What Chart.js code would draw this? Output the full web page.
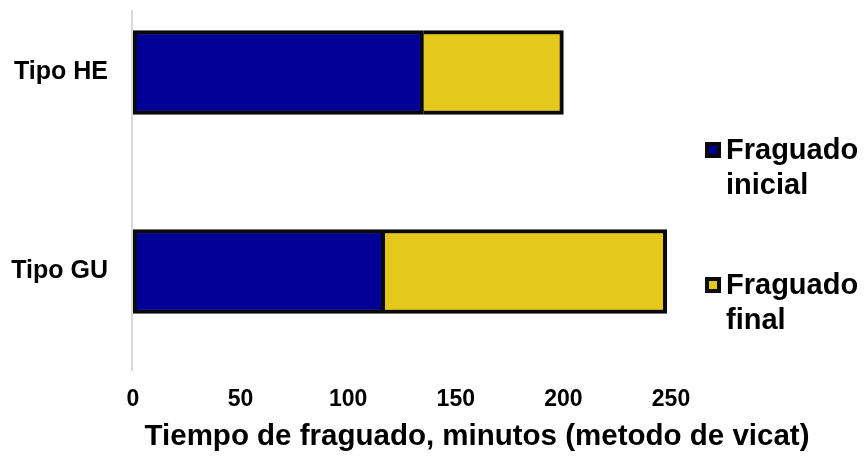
<!DOCTYPE html>
<html lang="es">
<head>
<meta charset="utf-8">
<title>Tiempo de fraguado</title>
<script src="https://cdn.jsdelivr.net/npm/chart.js@4.4.1/dist/chart.umd.min.js"></script>
<style>
  html, body { margin: 0; padding: 0; background: #ffffff; overflow: hidden; }
  body { width: 866px; height: 456px; position: relative; }
  #wrap { position: absolute; left: 0; top: -67px; width: 866px; height: 523px; }
</style>
</head>
<body>
<div id="wrap"><canvas id="grafico" width="866" height="523"></canvas></div>
<script>
// Tipos de cemento
const categorias = ['Tipo HE', 'Tipo GU'];
// Minutos hasta el fraguado inicial
const fraguadoInicial = [135, 117];
// Minutos adicionales hasta el fraguado final (tramo apilado)
const fraguadoFinal = [65, 131];
// Marcas del eje de tiempo
const marcasEje = [0, 50, 100, 150, 200, 250];

const etiquetasLeyenda = [['Fraguado', 'inicial'], ['Fraguado', 'final']];
const tituloEje = 'Tiempo de fraguado, minutos (metodo de vicat)';

const AZUL = '#000096';
const AMARILLO = '#E4C81B';
const BORDE = '#0a0a0a';
const FUENTE = '"Liberation Sans", Arial, sans-serif';
const DESPLAZAMIENTO = 67; // parte superior del lienzo que queda fuera de la vista

// Línea del eje vertical, título del eje y leyenda lateral
const decoraciones = {
  id: 'decoraciones',
  afterDraw(chart) {
    const ctx = chart.ctx;
    const area = chart.chartArea;
    const d = DESPLAZAMIENTO;
    ctx.save();
    // eje de categorías
    ctx.strokeStyle = '#d9d9d9';
    ctx.lineWidth = 2;
    ctx.beginPath();
    ctx.moveTo(area.left - 1, 10 + d);
    ctx.lineTo(area.left - 1, area.bottom);
    ctx.stroke();

    // título del eje de tiempo
    ctx.fillStyle = '#000';
    ctx.font = 'bold 29.5px ' + FUENTE;
    ctx.textAlign = 'center';
    ctx.textBaseline = 'alphabetic';
    ctx.fillText(tituloEje, 477, 445 + d);

    // leyenda
    const filas = [150, 285];
    chart.data.datasets.forEach((ds, i) => {
      const yc = filas[i] + d;
      ctx.fillStyle = BORDE;
      ctx.fillRect(705, yc - 8, 16, 16);
      ctx.fillStyle = ds.backgroundColor;
      ctx.fillRect(709, yc - 4, 8, 8);
      ctx.fillStyle = '#000';
      ctx.font = 'bold 29px ' + FUENTE;
      ctx.textAlign = 'left';
      ctx.textBaseline = 'middle';
      etiquetasLeyenda[i].forEach((linea, j) => {
        ctx.fillText(linea, 726, yc + 1 + j * 35);
      });
    });
    ctx.restore();
  }
};

new Chart(document.getElementById('grafico'), {
  type: 'bar',
  data: {
    labels: categorias,
    datasets: [
      {
        label: 'Fraguado inicial',
        data: fraguadoInicial,
        backgroundColor: AZUL,
        borderColor: BORDE,
        borderWidth: 4,
        borderSkipped: false,
        barThickness: 84
      },
      {
        label: 'Fraguado final',
        data: fraguadoFinal,
        backgroundColor: AMARILLO,
        borderColor: BORDE,
        borderWidth: { top: 4, right: 4, bottom: 4, left: 0 },
        borderSkipped: false,
        barThickness: 84
      }
    ]
  },
  options: {
    indexAxis: 'y',
    responsive: false,
    animation: false,
    devicePixelRatio: 1,
    layout: { padding: { top: 0, right: 195, bottom: 0, left: 0 } },
    plugins: {
      legend: { display: false },
      tooltip: { enabled: false },
      title: { display: false }
    },
    scales: {
      x: {
        type: 'linear',
        stacked: true,
        min: 0,
        max: 250,
        afterBuildTicks(scale) {
          scale.ticks = marcasEje.map(v => ({ value: v }));
        },
        afterFit(scale) { scale.height = 85; },
        grid: { display: false, drawTicks: false },
        border: { display: false },
        ticks: {
          padding: 15,
          color: '#000',
          font: { family: FUENTE, size: 23, weight: 'bold' },
          maxRotation: 0
        }
      },
      y: {
        type: 'category',
        stacked: true,
        afterFit(scale) { scale.width = 133; },
        grid: { display: false, drawTicks: false },
        border: { display: false },
        ticks: {
          padding: 25,
          color: '#000',
          font: { family: FUENTE, size: 25, weight: 'bold' }
        }
      }
    }
  },
  plugins: [decoraciones]
});
</script>
</body>
</html>
